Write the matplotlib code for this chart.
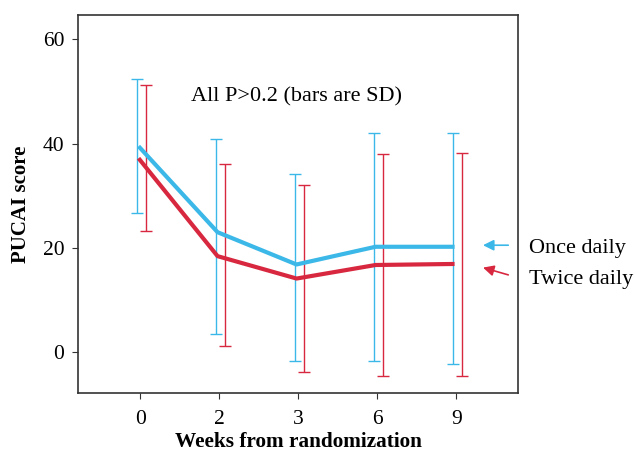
import numpy as np
import matplotlib.pyplot as plt

plt.rcParams['font.family'] = ['Liberation Serif', 'DejaVu Serif']

weeks = ['0', '2', '3', '6', '9']
once_mean = [39.5, 23.0, 16.8, 20.2, 20.2]
once_low = [26.7, 3.5, -1.8, -1.8, -2.4]
once_high = [52.5, 40.8, 34.1, 42.0, 42.0]
twice_mean = [37.2, 18.4, 14.1, 16.7, 16.9]
twice_low = [23.2, 1.1, -3.9, -4.7, -4.6]
twice_high = [51.3, 36.1, 32.1, 38.1, 38.2]

blue = '#3bb8e8'
red = '#d8283f'

x = np.arange(len(weeks))
fig = plt.figure(figsize=(6.35, 4.55), dpi=100)
ax = fig.add_axes([0.123, 0.136, 0.693, 0.831])

once_mean = np.array(once_mean)
twice_mean = np.array(twice_mean)
once_err = [once_mean - np.array(once_low), np.array(once_high) - once_mean]
twice_err = [twice_mean - np.array(twice_low), np.array(twice_high) - twice_mean]

ax.errorbar(x - 0.045, once_mean, yerr=once_err, fmt='none', ecolor=blue,
            elinewidth=1, capsize=4, capthick=1)
ax.errorbar(x + 0.075, twice_mean, yerr=twice_err, fmt='none', ecolor=red,
            elinewidth=1, capsize=4, capthick=1)
ax.plot(x - 0.02, once_mean, color=blue, lw=3, solid_capstyle='butt')
ax.plot(x - 0.02, twice_mean, color=red, lw=3, solid_capstyle='butt')

ax.set_xlim(-0.785, 4.785)
ax.set_ylim(-7.9, 64.7)
ax.set_xticks(x)
ax.set_xticklabels(weeks)
ax.set_yticks([0, 20, 40, 60])
ax.tick_params(labelsize=15.5, length=4, color='#333333', pad=6)
ax.tick_params(axis='x', pad=8)
for s in ax.spines.values():
    s.set_color('#333333')
    s.set_linewidth(1.2)

ax.set_xlabel('Weeks from randomization', fontsize=15.3, fontweight='bold', labelpad=2)
ax.set_ylabel('PUCAI score', fontsize=15, fontweight='bold', labelpad=8)

ax.text(1.98, 49.0, 'All P>0.2 (bars are SD)', fontsize=16, ha='center', va='center')

ax.annotate('', xy=(4.34, 20.5), xytext=(4.66, 20.5),
            arrowprops=dict(arrowstyle='-|>', color=blue, lw=1.2, mutation_scale=16,
                            shrinkA=0, shrinkB=0))
ax.annotate('', xy=(4.34, 16.2), xytext=(4.66, 14.8),
            arrowprops=dict(arrowstyle='-|>', color=red, lw=1.2, mutation_scale=16,
                            shrinkA=0, shrinkB=0))
ax.text(4.92, 19.8, 'Once daily', fontsize=16, ha='left', va='center', clip_on=False)
ax.text(4.92, 14.0, 'Twice daily', fontsize=16, ha='left', va='center', clip_on=False)

fig.savefig('out.png', dpi=100)
